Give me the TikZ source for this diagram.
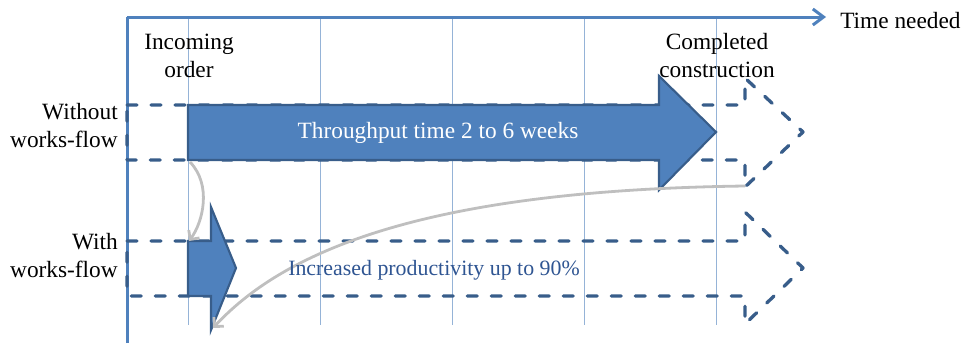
\documentclass[tikz,border=0pt]{standalone}
\usepackage{fontspec}
\setmainfont{Liberation Serif}
\newfontfamily\timesfont{Liberation Serif}
\usetikzlibrary{arrows.meta, positioning, calc}
\definecolor{axisblue}{HTML}{4F81BD}
\definecolor{gridblue}{HTML}{95B3D7}
\definecolor{darkblue}{HTML}{385D8A}
\definecolor{textblue}{HTML}{2F5592}
\definecolor{gaingray}{HTML}{BFBFBF}
\tikzset{
  axis/.style     = {draw=axisblue, line width=2.25pt},
  gridline/.style = {draw=gridblue, line width=0.75pt},
  plan/.style     = {draw=darkblue, line width=2.5pt, line cap=round,
                     line join=round, dash pattern=on 7.5pt off 10.5pt},
  flow/.style     = {draw=darkblue, fill=axisblue, line width=1.6pt,
                     line join=miter},
  gain/.style     = {draw=gaingray, line width=2.1pt,
                     -{Straight Barb[length=5pt, width=10pt]}},
  lbl/.style      = {font=\timesfont\fontsize{17.5}{21}\selectfont,
                     inner sep=0pt},
  >=Stealth
}

\begin{document}
\begin{tikzpicture}[x=0.75pt, y=-0.75pt]

  \useasboundingbox (0,0) rectangle (963,343);

  %%──────────────────────────────────────────────────────────────────────────
  %%  TIME GRID
  %%──────────────────────────────────────────────────────────────────────────
  \foreach \gx in {188,320,452,584,716}
    \draw[gridline] (\gx,17) -- (\gx,325);

  %%──────────────────────────────────────────────────────────────────────────
  %%  AXES
  %%──────────────────────────────────────────────────────────────────────────
  \coordinate (origin) at (127,17);
  \coordinate (tEnd)   at (826,17);
  \coordinate (yEnd)   at (127,343);
  \draw[axis] (yEnd) -- (origin);
  \draw[axis, -{Straight Barb[length=8pt, width=12pt]}] (origin) -- (tEnd);

  %%──────────────────────────────────────────────────────────────────────────
  %%  PLANNED SPANS (dashed outlines)
  %%──────────────────────────────────────────────────────────────────────────
  \draw[plan] (127,105) -- (745,105) -- (745,78) -- (803,132)
              -- (745,187) -- (745,160) -- (127,160) -- cycle;
  \draw[plan] (127,241) -- (745,241) -- (745,212) -- (803,268)
              -- (745,324) -- (745,296) -- (127,296) -- cycle;

  %%──────────────────────────────────────────────────────────────────────────
  %%  ACTUAL SPANS
  %%──────────────────────────────────────────────────────────────────────────
  \draw[flow] (188,105) -- (659,105) -- (659,76) -- (716,132)
              -- (659,190) -- (659,160) -- (188,160) -- cycle;
  \draw[flow] (188,241) -- (211,241) -- (211,207) -- (236,268)
              -- (211,330) -- (211,296) -- (188,296) -- cycle;

  %%──────────────────────────────────────────────────────────────────────────
  %%  GAIN ARROWS
  %%──────────────────────────────────────────────────────────────────────────
  \coordinate (slowStart) at (190,162);
  \coordinate (fastStart) at (189,241);
  \coordinate (slowEnd)   at (745,186);
  \coordinate (fastEnd)   at (213,328);

  \draw[gain] (slowStart) .. controls (212,185) and (203,222) .. (fastStart);
  \draw[gain] (slowEnd) .. controls (440,190) and (290,245) .. (fastEnd);

  %%──────────────────────────────────────────────────────────────────────────
  %%  LABELS
  %%──────────────────────────────────────────────────────────────────────────
  \node[lbl, anchor=base west] (tlbl) at (840,28) {Time needed};
  \node[lbl, align=center] (inc) at (189,56) {Incoming\\order};
  \node[lbl, align=center] (done) at (717,56) {Completed\\construction};
  \node[lbl, align=right, anchor=east] (without) at (118,126)
        {Without\\works-flow};
  \node[lbl, align=right, anchor=east] (with) at (118,256)
        {With\\works-flow};
  \node[lbl, text=white] (tput) at (438,133) {Throughput time 2 to 6 weeks};
  \node[lbl, text=textblue, font=\timesfont\fontsize{16.4}{20}\selectfont]
        (prod) at (434,270) {Increased productivity up to 90\%};

\end{tikzpicture}
\end{document}
